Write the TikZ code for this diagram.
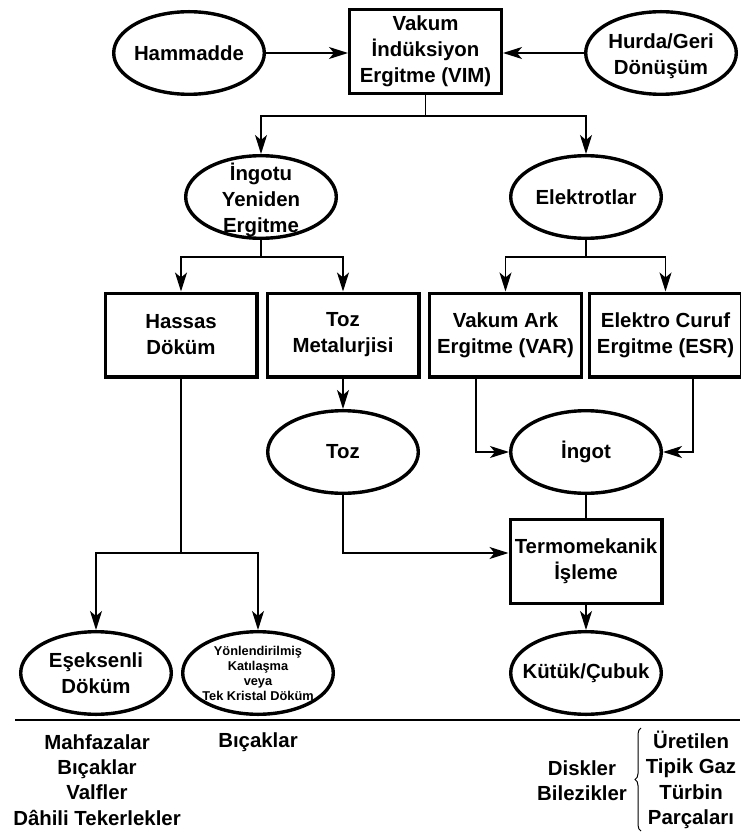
\documentclass[tikz,border=0pt]{standalone}
\usepackage{fontspec}
\setmainfont{Liberation Sans}
\usetikzlibrary{shapes.geometric,arrows.meta,calc,decorations.pathreplacing}

\begin{document}
\begin{tikzpicture}[x=1pt,y=-1pt,
  lbl/.style={font=\bfseries\fontsize{20.4}{26}\selectfont, align=center, inner sep=0pt},
  small/.style={font=\bfseries\fontsize{12.8}{15}\selectfont, align=center, inner sep=0pt},
  proc/.style={lbl, draw, line width=3.4pt, rectangle, minimum width=151.6pt, minimum height=83.6pt},
  item/.style={draw, line width=3.4pt, ellipse, minimum width=150.6pt, minimum height=82.6pt, inner sep=0pt},
  link/.style={line width=1.4pt},
  flow/.style={link, -{Stealth[length=19pt,width=12pt,inset=5pt]}},
]
\useasboundingbox (0,0) rectangle (740,834);

% --- top row: raw material, vacuum induction melting, scrap
\node[item, label={[lbl]center:Hammadde}] (ham) at (189,53) {};
\node[proc] (vim) at (425.5,51.5) {Vakum\\İndüksiyon\\Ergitme (VIM)};
\node[item, label={[lbl, yshift=-3pt]center:{Hurda/Geri\\Dönüşüm}}] (hur) at (661,53) {};

% --- second row
\node[item, label={[lbl, yshift=-3pt]center:{İngotu\\Yeniden\\Ergitme}}] (ingotu) at (261,197) {};
\node[item, label={[lbl]center:Elektrotlar}] (elek) at (586,197) {};

% --- process boxes
\node[proc] (hassas) at (181,335) {Hassas\\Döküm};
\node[proc] (tozm) at (343,335) {Toz\\Metalurjisi};
\node[proc] (var) at (505.5,335) {Vakum Ark\\Ergitme (VAR)};
\node[proc] (esr) at (665.5,335) {Elektro Curuf\\Ergitme (ESR)};

% --- intermediate products
\node[item, label={[lbl]center:Toz}] (toz) at (343,452) {};
\node[item, label={[lbl]center:İngot}] (ingot) at (586,452) {};
\node[proc] (term) at (586,561.5) {Termomekanik\\İşleme};

% --- final products
\node[item, label={[lbl]center:{Eşeksenli\\Döküm}}] (esek) at (96,673) {};
\node[item, label={[small]center:{Yönlendirilmiş\\Katılaşma\\veya\\Tek Kristal Döküm}}] (yon) at (258,673) {};
\node[item, label={[lbl]center:Kütük/Çubuk}] (kutuk) at (586,673) {};

% --- branch points
\coordinate (s1) at (425.5,116);
\coordinate (s2) at (261,257);
\coordinate (s3) at (586,257);
\coordinate (s4) at (181,553);
\coordinate (termin) at ($(term.west)+(0,-8.5)$);

% --- connectors
\draw[flow] (ham.east) -- (ham.east -| vim.west);
\draw[flow] (hur.west) -- (hur.west -| vim.east);

\draw[link] (vim.south) -- (s1);
\draw[flow] (s1) -| (ingotu.north);
\draw[flow] (s1) -| (elek.north);

\draw[link] (ingotu.south) -- (s2);
\draw[flow] (s2) -| (hassas.north);
\draw[flow] (s2) -| (tozm.north);

\draw[link] (elek.south) -- (s3);
\draw[flow] (s3) -| (var.north);
\draw[flow] (s3) -| (esr.north);

\draw[flow] (tozm.south) -- (toz.north);
\draw[flow] ([xshift=-29.5pt]var.south) |- (ingot.west);
\draw[flow] ([xshift=27.5pt]esr.south) |- (ingot.east);

\draw[link] (ingot.south) -- (term.north);
\draw[flow] (toz.south) |- (termin);
\draw[flow] (term.south) -- (kutuk.north);

\draw[link] (hassas.south) -- (s4);
\draw[flow] (s4) -| (esek.north);
\draw[flow] (s4) -| (yon.north);

% --- rule and typical parts
\coordinate (rulel) at (15,720);
\coordinate (ruler) at (740,720);
\draw[line width=1.5pt] (rulel) -- (ruler);

\node[lbl, font=\bfseries\fontsize{20.4}{25.3}\selectfont] (parts1) at (97,780) {Mahfazalar\\Bıçaklar\\Valfler\\Dâhili Tekerlekler};
\node[lbl] (parts2) at (258,742) {Bıçaklar};
\node[lbl, font=\bfseries\fontsize{20.4}{25.3}\selectfont] (parts3) at (582,780.5) {Diskler\\Bilezikler};
\node[lbl, font=\bfseries\fontsize{20.4}{25.3}\selectfont] (parts4) at (691,780) {Üretilen\\Tipik Gaz\\Türbin\\Parçaları};

\coordinate (bracelo) at (641,831);
\coordinate (bracehi) at (641,728);
\draw[line width=1pt, decorate, decoration={brace, amplitude=6pt}] (bracelo) -- (bracehi);
\end{tikzpicture}
\end{document}
